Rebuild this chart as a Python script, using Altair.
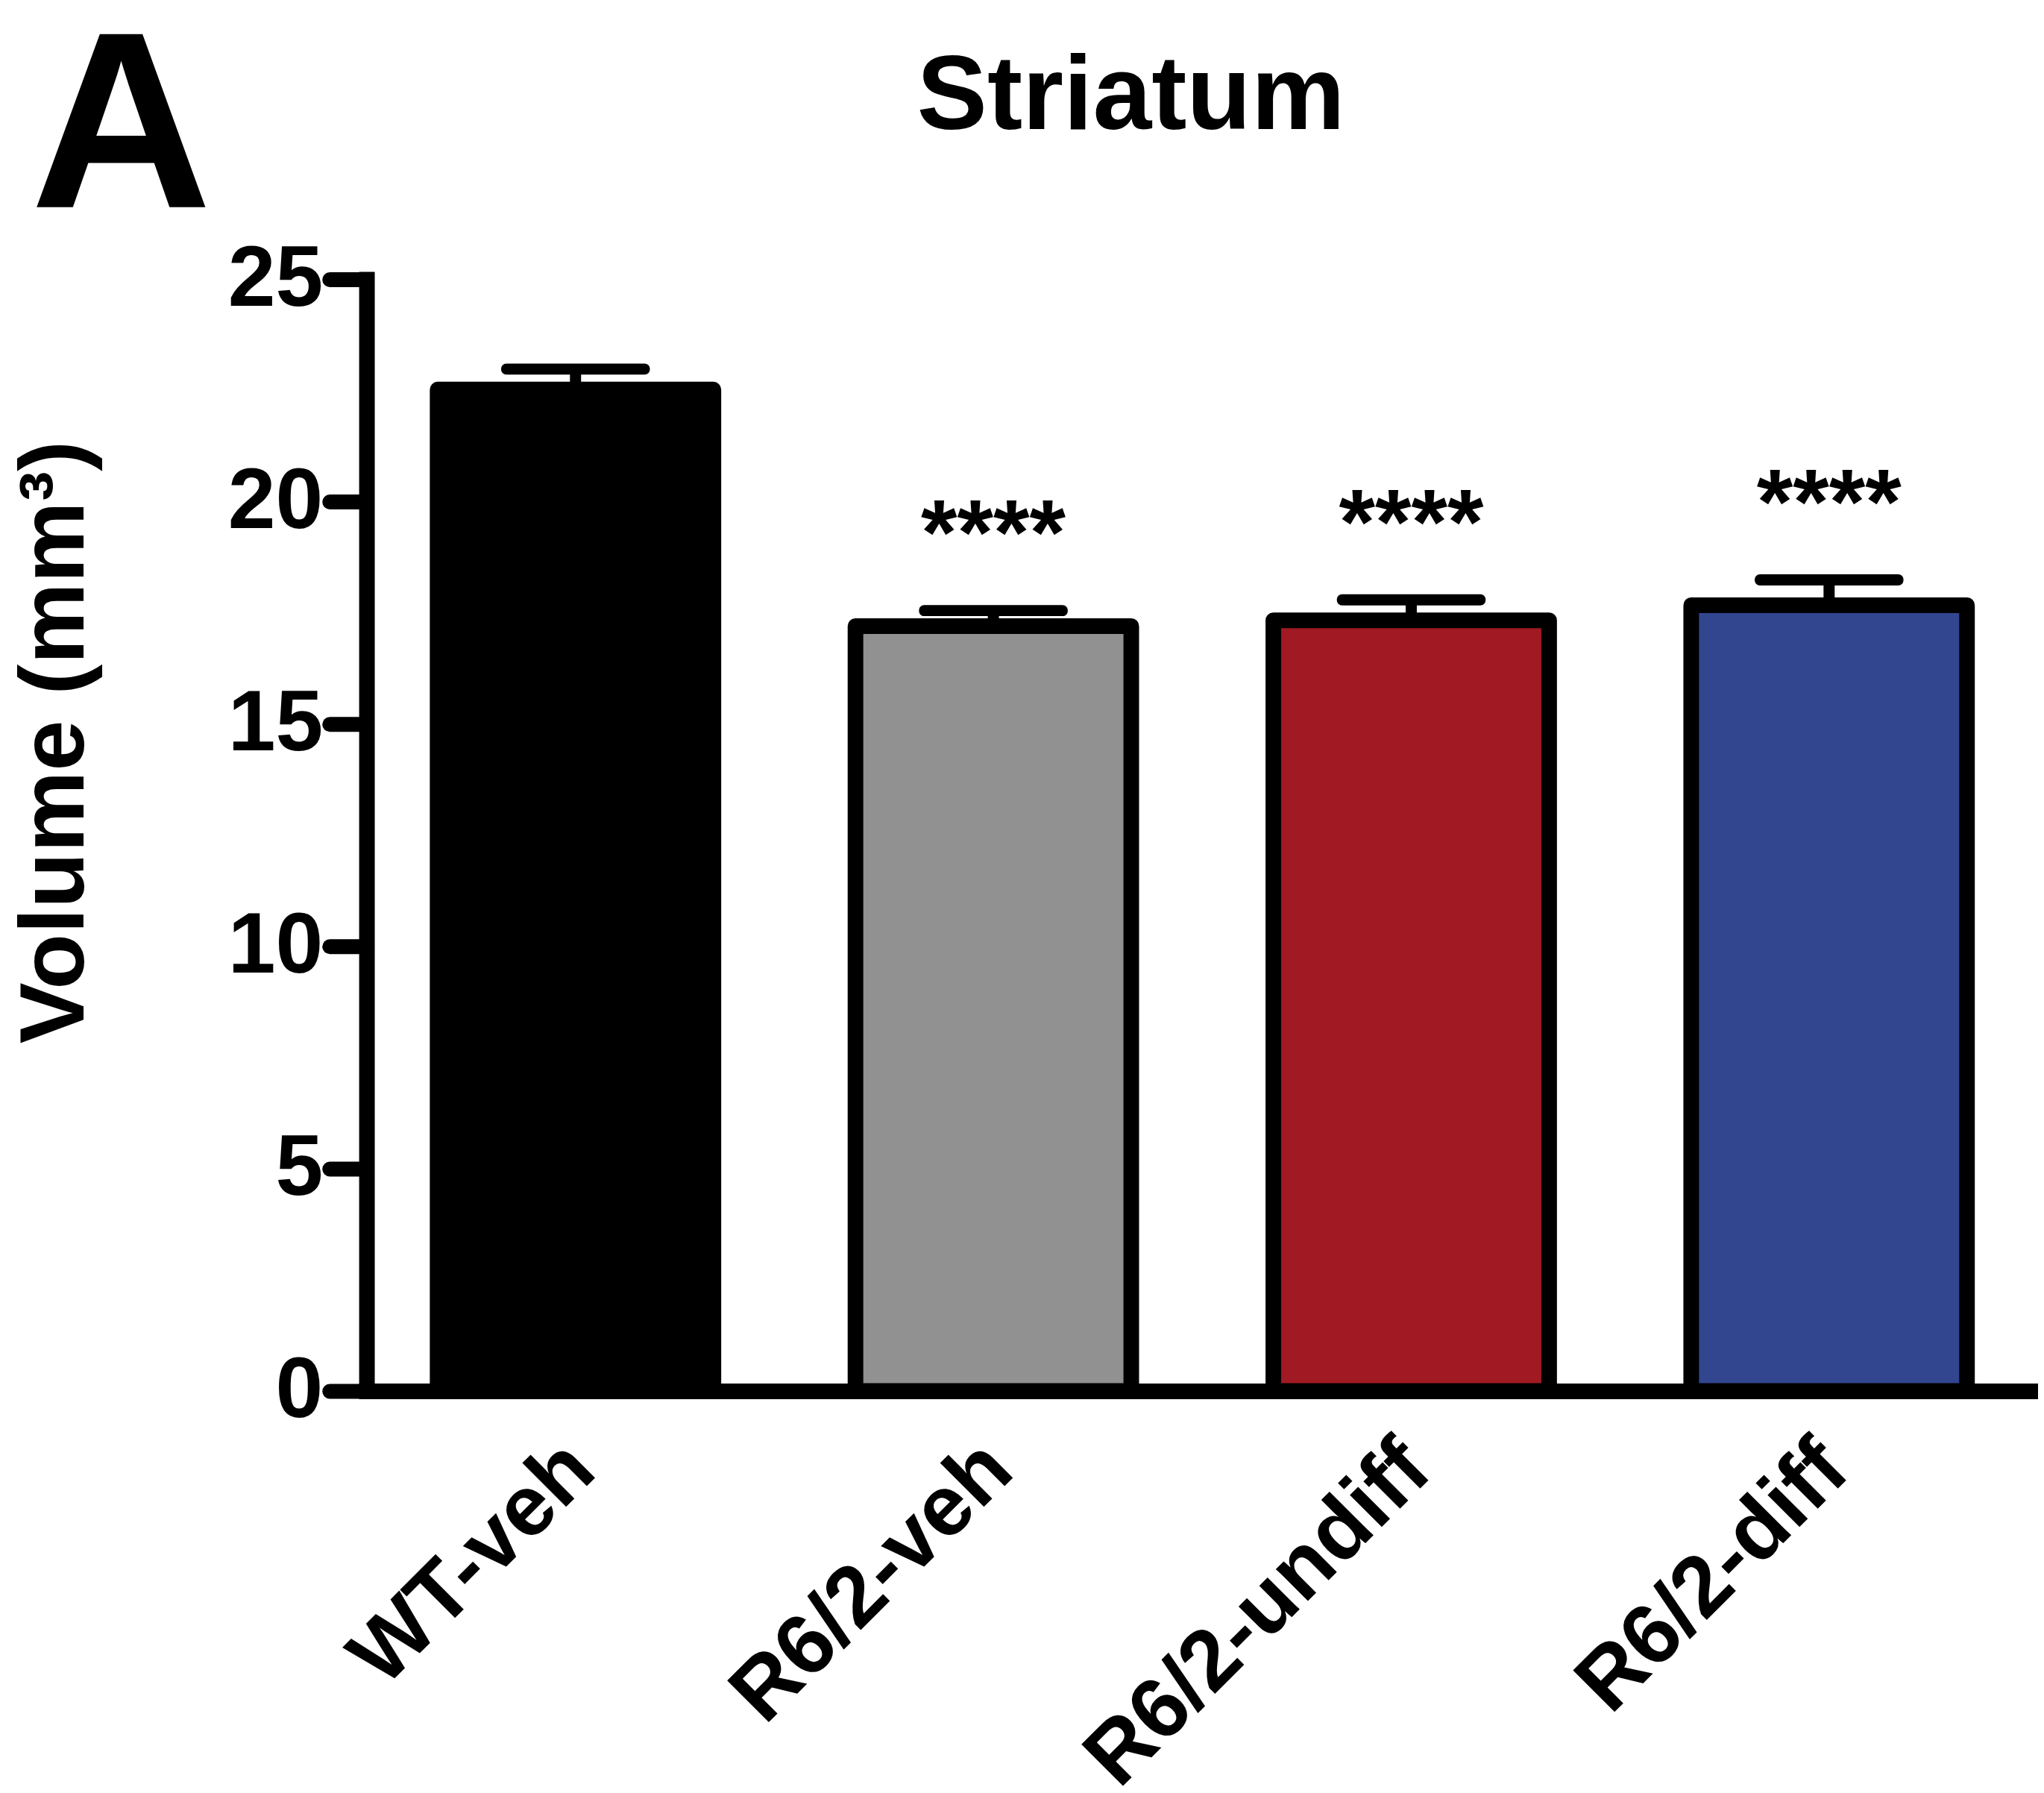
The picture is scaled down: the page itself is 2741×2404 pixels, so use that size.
import altair as alt
import pandas as pd

groups = ["WT-veh", "R6/2-veh", "R6/2-undiff", "R6/2-diff"]
means = [22.52, 17.20, 17.33, 17.67]
sems = [0.46, 0.35, 0.46, 0.57]
stars = ["", "****", "****", "****"]
colors = ["#000000", "#919191", "#a11a23", "#32458f"]
yticks = [0, 5, 10, 15, 20, 25]

df = pd.DataFrame({"group": groups, "mean": means, "sem": sems, "stars": stars})
df["upper"] = df["mean"] + df["sem"]

FONT = "Liberation Sans"

x = alt.X(
    "group:N", sort=groups,
    scale=alt.Scale(paddingInner=0.34, paddingOuter=0.17),
    axis=alt.Axis(title=None, labelAngle=-45, labelAlign="right", labelBaseline="top",
                  labelFont=FONT, labelFontWeight="bold", labelFontSize=115,
                  labelColor="black", ticks=False, labelPadding=47, labelOffset=-33,
                  labelLimit=2000,
                  domainColor="black", domainWidth=21, domainCap="square"),
)
y = alt.Y(
    "mean:Q",
    scale=alt.Scale(domain=[0, 25], nice=False),
    axis=alt.Axis(values=yticks, format="d", title="Volume (mm³)", grid=False,
                  labelFont=FONT, labelFontWeight="bold", labelFontSize=115,
                  labelColor="black", labelPadding=9, labelLimit=1000,
                  tickSize=50, tickWidth=20, tickColor="black", tickCap="round",
                  domainColor="black", domainWidth=21, domainCap="square",
                  titleFont=FONT, titleFontWeight="bold", titleFontSize=123,
                  titleColor="black", titleAngle=-90, titleAlign="center",
                  titleBaseline="middle", titleX=-418, titleY=622, titleLimit=3000),
)

base = alt.Chart(df)

bars = base.mark_bar(stroke="black", strokeWidth=21, strokeJoin="round").encode(
    x=x, y=y,
    color=alt.Color("group:N", sort=groups, scale=alt.Scale(domain=groups, range=colors), legend=None),
)
stem = base.mark_rule(color="black", strokeWidth=15).encode(
    x=alt.X("group:N", sort=groups), y="mean:Q", y2="upper:Q"
)
cap = base.mark_tick(color="black", size=200, thickness=15, cornerRadius=7, opacity=1).encode(
    x=alt.X("group:N", sort=groups), y="upper:Q"
)
star_text = base.mark_text(font=FONT, fontWeight="bold", fontSize=125, baseline="alphabetic",
                           dy=-62, color="black").encode(
    x=alt.X("group:N", sort=groups), y="upper:Q", text="stars:N"
)
headings = pd.DataFrame({"label": ["A"]})
panel = alt.Chart(headings).mark_text(
    font=FONT, fontWeight="bold", fontSize=338, baseline="alphabetic", align="center", color="black"
).encode(x=alt.value(-330), y=alt.value(-97), text="label:N")
title_txt = alt.Chart(pd.DataFrame({"label": ["Striatum"]})).mark_text(
    font=FONT, fontWeight="bold", fontSize=142, baseline="alphabetic", align="center", color="black"
).encode(x=alt.value(1028), y=alt.value(-202), text="label:N")

chart = alt.layer(stem, bars, cap, star_text, panel, title_txt).properties(
    width=2248, height=1495,
    autosize=alt.AutoSizeParams(type="none"),
    padding={"left": 485, "top": 364, "right": 0, "bottom": 529},
).configure_view(stroke=None)

chart.save("out.html", embed_options={"renderer": "svg", "actions": False})
